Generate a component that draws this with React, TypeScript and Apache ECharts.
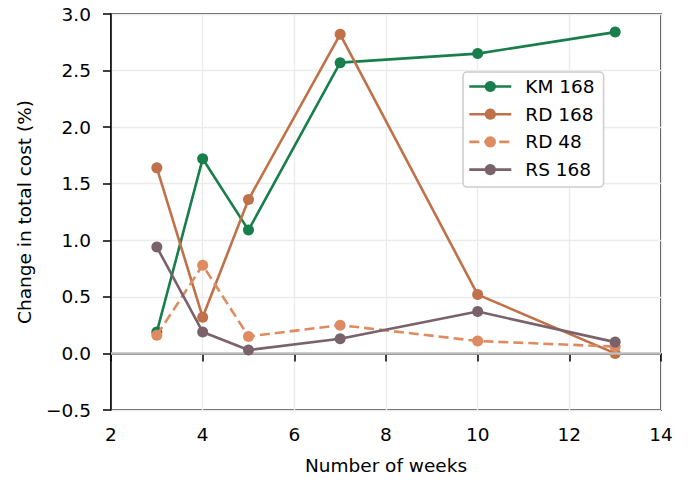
import React, { useEffect, useRef } from "react";
import * as echarts from "echarts";

const weeks = [3, 4, 5, 7, 10, 13];
const km168 = [0.19, 1.72, 1.09, 2.57, 2.65, 2.84];
const rd168 = [1.64, 0.32, 1.36, 2.82, 0.52, 0.0];
const rd48 = [0.16, 0.78, 0.15, 0.25, 0.11, 0.06];
const rs168 = [0.94, 0.19, 0.03, 0.13, 0.37, 0.1];

const seriesDefs = [
  { name: "KM 168", data: km168, color: "#177e4c", dash: "solid" as any },
  { name: "RD 168", data: rd168, color: "#c1714a", dash: "solid" as any },
  { name: "RD 48", data: rd48, color: "#de8b60", dash: [10, 5] as any },
  { name: "RS 168", data: rs168, color: "#7a626b", dash: "solid" as any },
];

const FONT = "DejaVu Sans";
const FS = 18.5;

export default function App() {
  const ref = useRef<HTMLDivElement>(null);
  useEffect(() => {
    if (!ref.current) return;
    const chart = echarts.init(ref.current, null, { renderer: "svg" });
    const series: any[] = seriesDefs.map((s, i) => ({
      name: s.name,
      type: "line",
      data: weeks.map((w, j) => [w, s.data[j]]),
      symbol: "circle",
      symbolSize: 11,
      itemStyle: { color: s.color },
      lineStyle: { color: s.color, width: 2.6, type: s.dash },
      z: 3 + i,
    }));
    series.push({
      name: "zero",
      type: "line",
      data: [],
      markLine: {
        silent: true,
        symbol: "none",
        label: { show: false },
        lineStyle: { color: "#bdbdbd", width: 2.5, type: "solid" },
        data: [{ yAxis: 0 }],
      },
      z: 1,
    });
    chart.setOption({
      animation: false,
      textStyle: { fontFamily: FONT },
      grid: {
        left: 111,
        right: 27,
        top: 14,
        bottom: 71,
        show: true,
        borderColor: "#1a1a1a",
        borderWidth: 1.5,
      },
      legend: {
        data: seriesDefs.map((s) => s.name),
        orient: "vertical",
        left: 463,
        top: 72,
        itemWidth: 42,
        itemHeight: 14,
        itemGap: 8.7,
        padding: [5, 9, 8, 5],
        borderColor: "#cccccc",
        borderWidth: 1.5,
        borderRadius: 4,
        backgroundColor: "rgba(255,255,255,0.9)",
        lineStyle: { width: 2.6 },
        textStyle: {
          fontFamily: FONT,
          fontSize: FS,
          lineHeight: 19,
          color: "#000",
          padding: [0, 0, 0, 9],
        },
      },
      xAxis: {
        type: "value",
        min: 2,
        max: 14,
        interval: 2,
        name: "Number of weeks",
        nameLocation: "middle",
        nameGap: 46,
        nameTextStyle: { fontFamily: FONT, fontSize: FS, color: "#000" },
        axisLine: { show: true, lineStyle: { color: "#000", width: 1.5 } },
        axisTick: { show: true, inside: false, length: 8, lineStyle: { color: "#000", width: 1.5 } },
        axisLabel: { fontFamily: FONT, fontSize: FS, color: "#000", margin: 15 },
        splitLine: { show: true, lineStyle: { color: "#ebebeb", width: 1.3 } },
      },
      yAxis: {
        type: "value",
        min: -0.5,
        max: 3.0,
        interval: 0.5,
        name: "Change in total cost (%)",
        nameLocation: "middle",
        nameGap: 77,
        nameTextStyle: { fontFamily: FONT, fontSize: FS, color: "#000" },
        axisLine: { show: true, lineStyle: { color: "#000", width: 1.5 } },
        axisTick: { show: true, inside: false, length: 8, lineStyle: { color: "#000", width: 1.5 } },
        axisLabel: {
          fontFamily: FONT,
          fontSize: FS,
          color: "#000",
          margin: 20,
          formatter: (v: number) => (v < 0 ? "\u2212" + Math.abs(v).toFixed(1) : v.toFixed(1)),
        },
        splitLine: { show: true, lineStyle: { color: "#ebebeb", width: 1.3 } },
      },
      series,
    });
    return () => chart.dispose();
  }, []);
  return <div ref={ref} style={{ width: 688, height: 481, position: "absolute", left: 0, top: 0 }} />;
}
